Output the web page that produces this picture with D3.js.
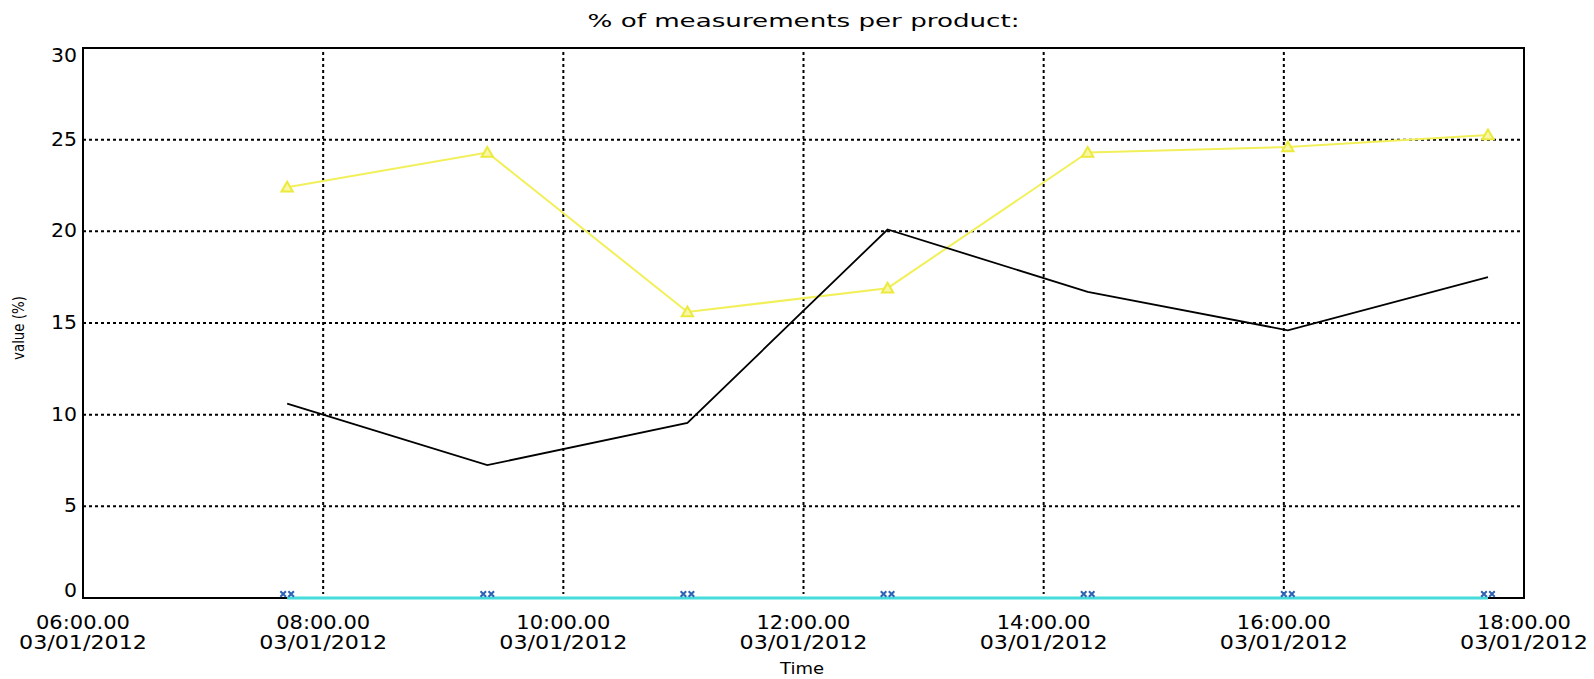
<!DOCTYPE html>
<html>
<head>
<meta charset="utf-8">
<script src="https://cdn.jsdelivr.net/npm/d3@7"></script>
<style>
  body { margin: 0; background: #fff; }
  text { font-family: "DejaVu Sans", sans-serif; fill: #000; }
</style>
</head>
<body>
<div id="chart"></div>
<script>
// data
var times = ["2012-03-01T07:42:00", "2012-03-01T09:22:00", "2012-03-01T11:02:00",
             "2012-03-01T12:42:00", "2012-03-01T14:22:00", "2012-03-01T16:02:00",
             "2012-03-01T17:42:00"];
var yellowVals = [22.4, 24.3, 15.6, 16.9, 24.3, 24.6, 25.25];
var blackVals  = [10.6, 7.25, 9.55, 20.1, 16.7, 14.6, 17.5];
var blueVals   = [0, 0, 0, 0, 0, 0, 0];
var xDomain = ["2012-03-01T06:00:00", "2012-03-01T18:00:00"];
var yTicks = [0, 5, 10, 15, 20, 25, 30];

var W = 1594, H = 679;
var LEFT = 83, RIGHT = 1524, TOP = 48, BOTTOM = 598;

var parse = d3.isoParse;
var svg = d3.select("#chart").append("svg")
  .attr("width", W).attr("height", H);

var x = d3.scaleTime()
  .domain(xDomain.map(parse))
  .range([LEFT, RIGHT]);
var y = d3.scaleLinear()
  .domain([0, 30])
  .range([BOTTOM, TOP]);

var xTicks = x.ticks(d3.timeHour.every(2));

// grid
svg.append("g").selectAll("line").data(yTicks.slice(1, -1)).join("line")
  .attr("x1", LEFT).attr("x2", RIGHT)
  .attr("y1", d => y(d)).attr("y2", d => y(d))
  .attr("stroke", "#000").attr("stroke-width", 2)
  .attr("stroke-dasharray", "3,3");
svg.append("g").selectAll("line").data(xTicks.slice(1, -1)).join("line")
  .attr("x1", d => x(d)).attr("x2", d => x(d))
  .attr("y1", TOP + 4).attr("y2", BOTTOM - 4)
  .attr("stroke", "#000").attr("stroke-width", 2)
  .attr("stroke-dasharray", "3,3");

// frame
svg.append("rect")
  .attr("x", LEFT).attr("y", TOP)
  .attr("width", RIGHT - LEFT).attr("height", BOTTOM - TOP)
  .attr("fill", "none").attr("stroke", "#000").attr("stroke-width", 2);

// y tick labels (end ones kept inside the frame height)
svg.append("g").selectAll("text").data(yTicks).join("text")
  .attr("x", LEFT - 6)
  .attr("y", d => d == 30 ? y(d) + 14 : (d == 0 ? y(d) - 1 : y(d) + 6))
  .attr("text-anchor", "end")
  .attr("textLength", d => String(d).length * 13).attr("lengthAdjust", "spacingAndGlyphs")
  .style("font-size", "19px")
  .text(d => d);

// x tick labels, two lines
var fTime = d3.timeFormat("%H:%M.%S"), fDate = d3.timeFormat("%m/%d/%Y");
var xg = svg.append("g");
xg.selectAll("text.t").data(xTicks).join("text").attr("class", "t")
  .attr("x", d => x(d)).attr("y", BOTTOM + 31)
  .attr("text-anchor", "middle")
  .attr("textLength", 94).attr("lengthAdjust", "spacingAndGlyphs")
  .style("font-size", "19px")
  .text(d => fTime(d));
xg.selectAll("text.d").data(xTicks).join("text").attr("class", "d")
  .attr("x", d => x(d)).attr("y", BOTTOM + 51)
  .attr("text-anchor", "middle")
  .attr("textLength", 128).attr("lengthAdjust", "spacingAndGlyphs")
  .style("font-size", "19px")
  .text(d => fDate(d));

// titles
svg.append("text")
  .attr("x", (LEFT + RIGHT) / 2).attr("y", 27)
  .attr("text-anchor", "middle")
  .attr("textLength", 432).attr("lengthAdjust", "spacingAndGlyphs")
  .style("font-size", "18px")
  .text("% of measurements per product:");
svg.append("text")
  .attr("x", 802).attr("y", 674)
  .attr("text-anchor", "middle")
  .attr("textLength", 44).attr("lengthAdjust", "spacingAndGlyphs")
  .style("font-size", "16px")
  .text("Time");
svg.append("text")
  .attr("transform", "translate(24,328) rotate(-90)")
  .attr("text-anchor", "middle")
  .attr("textLength", 64).attr("lengthAdjust", "spacingAndGlyphs")
  .style("font-size", "15px")
  .text("value (%)");

var line = d3.line().x(d => x(parse(d[0]))).y(d => y(d[1]));

// yellow series with triangles
var yData = times.map((t, i) => [t, yellowVals[i]]);
svg.append("path").datum(yData)
  .attr("d", line).attr("fill", "none")
  .attr("stroke", "#f2f05a").attr("stroke-width", 2);
var tri = d3.symbol().type(d3.symbolTriangle).size(55);
svg.append("g").selectAll("path").data(yData).join("path")
  .attr("transform", d => "translate(" + x(parse(d[0])) + "," + (y(d[1]) + 1) + ")")
  .attr("d", tri).attr("fill", "#f8f7a8")
  .attr("stroke", "#ecea3c").attr("stroke-width", 2);

// black series
var bData = times.map((t, i) => [t, blackVals[i]]);
svg.append("path").datum(bData)
  .attr("d", line).attr("fill", "none")
  .attr("stroke", "#000").attr("stroke-width", 1.8);

// blue/cyan series at zero
var cData = times.map((t, i) => [t, blueVals[i]]);
svg.append("path").datum(cData)
  .attr("d", line).attr("fill", "none")
  .attr("stroke", "#46dcdc").attr("stroke-width", 3);
var xs = d3.symbol().type(d3.symbolX).size(22);
var mk = svg.append("g").selectAll("g").data(cData).join("g")
  .attr("transform", d => "translate(" + x(parse(d[0])) + "," + (y(d[1]) - 4) + ")");
mk.append("path").attr("transform", "translate(-4,0)").attr("d", xs)
  .attr("fill", "none").attr("stroke", "#2d62b4").attr("stroke-width", 2);
mk.append("path").attr("transform", "translate(4,0)").attr("d", xs)
  .attr("fill", "none").attr("stroke", "#2d62b4").attr("stroke-width", 2);
</script>
</body>
</html>
